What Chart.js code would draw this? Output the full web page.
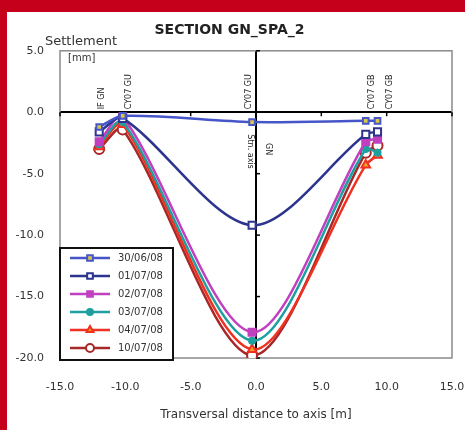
<!DOCTYPE html>
<html>
<head>
<meta charset="utf-8">
<script src="https://cdn.jsdelivr.net/npm/chart.js@4/dist/chart.umd.min.js"></script>
<style>
  html, body { margin: 0; padding: 0; }
  body { width: 465px; height: 430px; background: #c4001a; position: relative; overflow: hidden; }
  #panel { position: absolute; left: 7px; top: 12px; width: 458px; height: 418px; background: #fff; }
</style>
</head>
<body>
<div id="panel"><canvas id="my-chart" width="458" height="418"></canvas></div>
<script>
'use strict';

// #pragma Data

let distances = [-12.0, -10.2, -0.3, 8.4, 9.3];
let dates = ['30/06/08', '01/07/08', '02/07/08', '03/07/08', '04/07/08', '10/07/08'];
let settle3006 = [-1.2, -0.3, -0.8, -0.7, -0.7];
let settle0107 = [-1.6, -0.5, -9.2, -1.8, -1.6];
let settle0207 = [-2.4, -0.4, -17.9, -2.4, -2.2];
let settle0307 = [-2.6, -0.8, -18.6, -3.0, -3.3];
let settle0407 = [-2.8, -1.0, -19.3, -4.3, -3.5];
let settle1007 = [-3.0, -1.4, -19.8, -3.3, -2.7];
let pointLabels = ['IF GN', 'CY07 GU', 'CY07 GU', 'CY07 GB', 'CY07 GB'];
let yTicks = [5, 0, -5, -10, -15, -20];
let xTicks = [-15, -10, -5, 0, 5, 10, 15];

const FONT = '"DejaVu Sans", Verdana, sans-serif';

// #pragma Helpers

function toPoints(values) {
  let pts = [];
  for (let i = 0; i < distances.length; i++) {
    pts.push({ x: distances[i], y: values[i] });
  }
  return pts;
}

function makeSeries(label, values, color, style, fill, radius) {
  return {
    label: label,
    data: toPoints(values),
    showLine: true,
    borderColor: color,
    backgroundColor: color,
    borderWidth: 2.5,
    tension: 0.3,
    pointStyle: style,
    pointRadius: radius,
    pointBackgroundColor: fill,
    pointBorderColor: color,
    pointBorderWidth: 2,
  };
}

// frame, zero-line ticks, annotations and legend
let decorPlugin = {
  id: 'decor',
  beforeDatasetsDraw(chart) {
    let c = chart.ctx;
    let a = chart.chartArea;
    let xs = chart.scales.x;
    let ys = chart.scales.y;
    c.save();
    c.strokeStyle = '#8a8a8a';
    c.lineWidth = 1.5;
    c.strokeRect(a.left, a.top, a.right - a.left, a.bottom - a.top);

    // small tick marks on the crossing axes
    c.strokeStyle = '#000';
    c.lineWidth = 1.5;
    let y0 = ys.getPixelForValue(0);
    let x0 = xs.getPixelForValue(0);
    for (let i = 0; i < xTicks.length; i++) {
      let px = xs.getPixelForValue(xTicks[i]);
      c.beginPath(); c.moveTo(px, y0); c.lineTo(px, y0 + 4); c.stroke();
    }
    for (let i = 0; i < yTicks.length; i++) {
      let py = ys.getPixelForValue(yTicks[i]);
      c.beginPath(); c.moveTo(x0, py); c.lineTo(x0 + 4, py); c.stroke();
    }

    // vertical point labels along the zero line
    c.fillStyle = '#222';
    c.font = '8px ' + FONT;
    c.textAlign = 'left';
    c.textBaseline = 'middle';
    let offsets = [3, 6, -3, 6, 12];
    for (let i = 0; i < pointLabels.length; i++) {
      let px = xs.getPixelForValue(distances[i]) + offsets[i];
      c.save();
      c.translate(px, y0 - 3);
      c.rotate(-Math.PI / 2);
      c.fillText(pointLabels[i], 0, 0);
      c.restore();
    }
    // small annotation next to the tunnel axis
    c.save();
    c.translate(x0 - 6, ys.getPixelForValue(-1.8));
    c.rotate(Math.PI / 2);
    c.fillText('Stn. axis', 0, 0);
    c.restore();
    c.save();
    c.translate(x0 + 12, ys.getPixelForValue(-2.5));
    c.rotate(Math.PI / 2);
    c.fillText('GN', 0, 0);
    c.restore();

    // y axis title
    c.fillStyle = '#333';
    c.font = '13px ' + FONT;
    c.textBaseline = 'middle';
    c.fillText('Settlement', 38, 30);
    c.font = '10px ' + FONT;
    c.fillText('[mm]', 61, 46);
    c.restore();
  },
  afterDatasetsDraw(chart) {
    let c = chart.ctx;
    let bx = 53, by = 236, bw = 113, bh = 112;
    c.save();
    c.fillStyle = '#fff';
    c.fillRect(bx, by, bw, bh);
    c.strokeStyle = '#111';
    c.lineWidth = 2;
    c.strokeRect(bx, by, bw, bh);
    c.font = '10px ' + FONT;
    c.textAlign = 'left';
    c.textBaseline = 'middle';
    chart.data.datasets.forEach((ds, i) => {
      let yy = by + 10 + i * 18;
      c.strokeStyle = ds.borderColor;
      c.lineWidth = 2.5;
      c.beginPath(); c.moveTo(bx + 10, yy); c.lineTo(bx + 50, yy); c.stroke();
      c.fillStyle = ds.pointBackgroundColor;
      c.lineWidth = 2;
      Chart.helpers.drawPoint(c, { pointStyle: ds.pointStyle, radius: Math.min(ds.pointRadius, 4), borderWidth: 2, rotation: 0 }, bx + 30, yy);
      c.fillStyle = '#333';
      c.fillText(ds.label, bx + 58, yy);
    });
    c.restore();
  },
};

// #pragma Chart

let chartContext = document.getElementById('my-chart').getContext('2d');

let chartConfig = {
  type: 'scatter',
  data: {
    datasets: [
      makeSeries(dates[0], settle3006, '#4656c8', 'rect', '#d8c848', 4),
      makeSeries(dates[1], settle0107, '#2c348e', 'rect', '#ffffff', 5),
      makeSeries(dates[2], settle0207, '#c040c0', 'rect', '#c040c0', 5),
      makeSeries(dates[3], settle0307, '#1ea0a0', 'circle', '#1ea0a0', 3),
      makeSeries(dates[4], settle0407, '#f03020', 'triangle', '#f0a020', 5),
      makeSeries(dates[5], settle1007, '#a82828', 'circle', '#ffffff', 5),
    ],
  },
  options: {
    responsive: false,
    animation: false,
    layout: { padding: { left: 0, right: 13, top: 0, bottom: 0 } },
    plugins: {
      legend: { display: false },
      tooltip: { enabled: false },
      title: {
        display: true,
        text: 'SECTION GN_SPA_2',
        color: '#222',
        font: { family: FONT, size: 14, weight: 'bold' },
        padding: { top: 10, bottom: 12 },
      },
    },
    scales: {
      x: {
        type: 'linear',
        min: -15,
        max: 15,
        afterBuildTicks(scale) { scale.ticks = xTicks.map(v => ({ value: v })); },
        afterFit(scale) {
          scale.height = 72;
          scale.paddingLeft = 0;
          scale.paddingRight = 0;
        },
        grid: {
          drawTicks: false,
          color: ctx => (ctx.tick && ctx.tick.value === 0 ? '#000' : 'rgba(0,0,0,0)'),
          lineWidth: 2,
        },
        border: { display: false },
        ticks: {
          padding: 23,
          color: '#333',
          font: { family: FONT, size: 11 },
          callback: v => v.toFixed(1),
        },
        title: {
          display: true,
          text: 'Transversal distance to axis [m]',
          color: '#333',
          font: { family: FONT, size: 12 },
          padding: { top: 0, bottom: 8 },
        },
      },
      y: {
        type: 'linear',
        min: -20,
        max: 5,
        afterBuildTicks(scale) { scale.ticks = yTicks.map(v => ({ value: v })); },
        afterFit(scale) { scale.width = 53; },
        grid: {
          drawTicks: false,
          color: ctx => (ctx.tick && ctx.tick.value === 0 ? '#000' : 'rgba(0,0,0,0)'),
          lineWidth: 2,
        },
        border: { display: false },
        ticks: {
          padding: 16,
          color: '#333',
          font: { family: FONT, size: 11 },
          callback: v => v.toFixed(1),
        },
      },
    },
  },
  plugins: [decorPlugin],
};

let myChart = new Chart(chartContext, chartConfig);
</script>
</body>
</html>
